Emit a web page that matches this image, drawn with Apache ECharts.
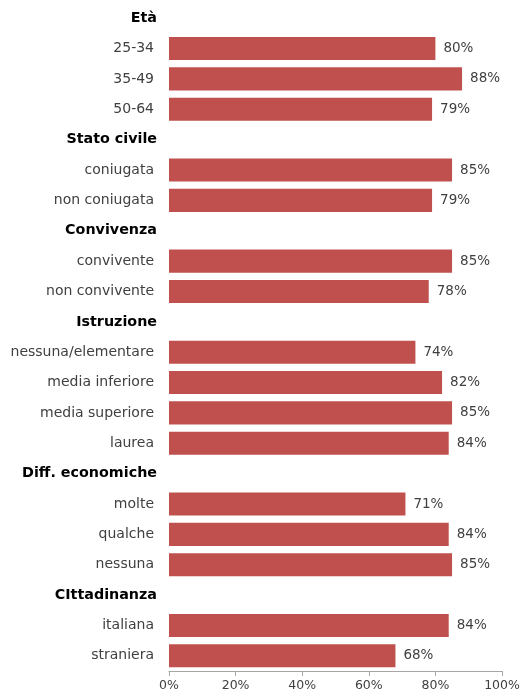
<!DOCTYPE html>
<html>
<head>
<meta charset="utf-8">
<script src="https://cdn.jsdelivr.net/npm/echarts@6/dist/echarts.min.js"></script>
<style>
  html, body { margin: 0; padding: 0; background: #fff; }
  #chart { width: 523px; height: 697px; }
</style>
</head>
<body>
<div id="chart"></div>
<script>
// Row labels, top to bottom; group headings are marked in headingRows
const categories = [
  'Età', '25-34', '35-49', '50-64',
  'Stato civile', 'coniugata', 'non coniugata',
  'Convivenza', 'convivente', 'non convivente',
  'Istruzione', 'nessuna/elementare', 'media inferiore', 'media superiore', 'laurea',
  'Diff. economiche', 'molte', 'qualche', 'nessuna',
  'CIttadinanza', 'italiana', 'straniera'
];
const headingRows = ['Età', 'Stato civile', 'Convivenza', 'Istruzione', 'Diff. economiche', 'CIttadinanza'];

// Percentages per row (null for headings)
const values = [
  null, 80, 88, 79,
  null, 85, 79,
  null, 85, 78,
  null, 74, 82, 85, 84,
  null, 71, 84, 85,
  null, 84, 68
];

const xTicks = [0, 20, 40, 60, 80, 100];

const FONT = '"DejaVu Sans", Verdana, sans-serif';

const chart = echarts.init(document.getElementById('chart'));
chart.setOption({
  animation: false,
  textStyle: { fontFamily: FONT },
  grid: { left: 169, right: 21, top: 3, bottom: 26, containLabel: false },
  xAxis: {
    type: 'value',
    min: xTicks[0],
    max: xTicks[xTicks.length - 1],
    interval: 20,
    axisLine: { show: true, lineStyle: { color: '#a6a6a6', width: 1 } },
    axisTick: { show: true, length: 5, lineStyle: { color: '#a6a6a6' } },
    splitLine: { show: false },
    axisLabel: {
      color: '#404040', fontSize: 12.5, fontFamily: FONT, margin: 8,
      formatter: v => v + '%'
    }
  },
  yAxis: {
    type: 'category',
    inverse: true,
    data: categories,
    axisLine: { show: false },
    axisTick: { show: false },
    axisLabel: {
      margin: 12,
      fontFamily: FONT,
      formatter: v => headingRows.includes(v) ? '{h|' + v + '}' : '{n|' + v + '}',
      rich: {
        h: { fontWeight: 'bold', fontSize: 14.3, color: '#000', fontFamily: FONT },
        n: { fontSize: 14, color: '#404040', fontFamily: FONT, padding: [0, 3, 0, 0] }
      }
    }
  },
  series: [{
    type: 'bar',
    data: values,
    barCategoryGap: '24%',
    itemStyle: { color: '#C0504D' },
    label: {
      show: true,
      position: 'right',
      distance: 8,
      color: '#404040',
      fontSize: 13.5,
      fontFamily: FONT,
      formatter: p => p.value + '%'
    }
  }]
});
</script>
</body>
</html>
